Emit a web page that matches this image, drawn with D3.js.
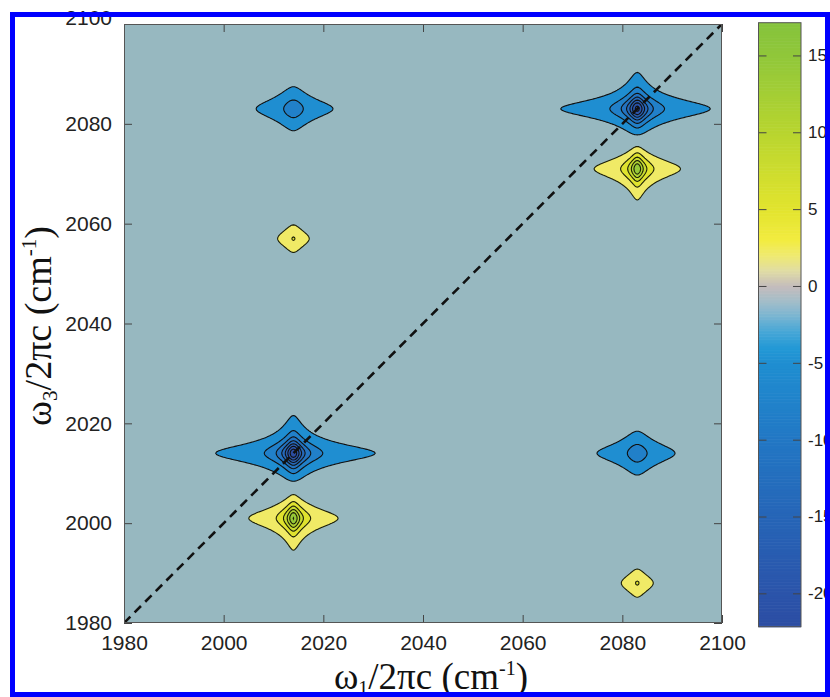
<!DOCTYPE html>
<html>
<head>
<meta charset="utf-8">
<script src="https://cdn.jsdelivr.net/npm/d3@7"></script>
<style>
  html, body { margin: 0; padding: 0; background: #fff; }
  svg { display: block; }
</style>
</head>
<body>
<script>
// axis ticks (cm-1) and colour bar ticks
const w1Ticks = [1980, 2000, 2020, 2040, 2060, 2080, 2100]
const w3Ticks = [1980, 2000, 2020, 2040, 2060, 2080, 2100]
const cbTicks = [-20, -15, -10, -5, 0, 5, 10, 15]
const cbRange = [-22.17, 17.13]

// peaks: centre, amplitude and half widths
const peakW1  = [2014, 2014, 2083, 2083, 2014, 2014, 2083, 2083]
const peakW3  = [2014, 2001, 2083, 2071, 2083, 2057, 2014, 1988]
const peakAmp = [-22.8, 17.9, -21.5, 17.5, -6.6, 5.25, -6.6, 5.25]
const peakGx  = [1.3, 1.07, 1.3, 1.07, 1.93, 1.35, 1.93, 1.35]
const peakGy  = [2.5, 2.5, 2.5, 2.5, 2.85, 2.27, 2.85, 2.27]

// contour levels
const negLevels = [-2, -5, -8, -11, -14, -17, -20]
const posLevels = [2, 5, 8, 11, 14, 17]

// colormap
const cbStops  = [-22.2, -20, -15, -10, -5, -4, -3, -2, -1, 0, 1, 2, 3, 5, 10, 15, 17.2]
const cbColors = ['#2c4da3', '#2b54aa', '#2665b7', '#2277c4', '#1f8ed1', '#2399d6', '#45a6d6',
  '#76b4d2', '#a2bdc9', '#c4bcbc', '#e0dca4', '#efea70', '#f2ec40', '#e2e42e', '#b8d52f',
  '#90c73a', '#85c33c']
const bgColor = '#97b8c0'

const W = 830, H = 697

const svg = d3.select('body').append('svg')
  .attr('width', W)
  .attr('height', H)

const x = d3.scaleLinear().domain([1980, 2100]).range([124, 722])
const y = d3.scaleLinear().domain([1980, 2100]).range([623, 24])
const color = d3.scaleLinear().domain(cbStops).range(cbColors).clamp(true)

// sample the spectrum on a grid
const step = 0.25
const n = Math.round(120 / step) + 1
const values = new Float64Array(n * n)
for (let j = 0; j < n; j++) {
  const w3 = 1980 + j * step
  for (let i = 0; i < n; i++) {
    const w1 = 1980 + i * step
    let v = 0
    for (let k = 0; k < peakAmp.length; k++) {
      const dx = (w1 - peakW1[k]) / peakGx[k]
      const dy = (w3 - peakW3[k]) / peakGy[k]
      v += peakAmp[k] / Math.sqrt(1 + dx * dx) / (1 + dy * dy)
    }
    values[j * n + i] = v
  }
}

const proj = d3.geoTransform({
  point: function(px, py) {
    this.stream.point(x(1980 + (px - 0.5) * step), y(1980 + (py - 0.5) * step))
  }
})
const path = d3.geoPath(proj)

svg.append('clipPath').attr('id', 'plotclip')
  .append('rect')
  .attr('x', 124).attr('y', 24)
  .attr('width', 598).attr('height', 599)

// plot background
svg.append('rect')
  .attr('x', 124).attr('y', 24)
  .attr('width', 598).attr('height', 599)
  .attr('fill', bgColor)

const plot = svg.append('g').attr('clip-path', 'url(#plotclip)')

const negContours = d3.contours()
  .size([n, n])
  .thresholds(negLevels.map(d => -d))(values.map(v => -v))

const posContours = d3.contours()
  .size([n, n])
  .thresholds(posLevels)(values)

plot.selectAll('.neg')
  .data(negContours)
  .enter().append('path')
    .attr('class', 'neg')
    .attr('d', path)
    .attr('fill', d => color(-d.value - 3))
    .attr('stroke', '#111')
    .attr('stroke-width', 1.1)

plot.selectAll('.pos')
  .data(posContours)
  .enter().append('path')
    .attr('class', 'pos')
    .attr('d', path)
    .attr('fill', d => color(d.value + 0.2))
    .attr('stroke', '#1c1f08')
    .attr('stroke-width', 1.1)

// diagonal
plot.append('line')
  .attr('x1', x(1980)).attr('y1', y(1980))
  .attr('x2', x(2100)).attr('y2', y(2100))
  .attr('stroke', '#111')
  .attr('stroke-width', 2.6)
  .attr('stroke-dasharray', '9,6')

// axes
const tickFont = '"Liberation Sans", Arial, Helvetica, sans-serif'

const styleAxis = g => {
  g.select('.domain').remove()
  g.selectAll('.tick line').attr('stroke', '#444')
  g.selectAll('.tick text')
    .attr('fill', '#222')
    .style('font-family', tickFont)
    .style('font-size', '21px')
}

svg.append('g')
  .attr('transform', 'translate(124,0)')
  .call(d3.axisLeft(y).tickValues(w3Ticks).tickSize(-8).tickPadding(12).tickFormat(d3.format('d')))
  .call(styleAxis)
  .call(g => g.selectAll('.tick text').filter(d => d === 2100).attr('y', -6))

svg.append('g')
  .attr('transform', 'translate(722,0)')
  .call(d3.axisRight(y).tickValues(w3Ticks).tickSize(-8).tickFormat(''))
  .call(styleAxis)

svg.append('g')
  .attr('transform', 'translate(0,623)')
  .call(d3.axisBottom(x).tickValues(w1Ticks).tickSize(-8).tickPadding(12).tickFormat(d3.format('d')))
  .call(styleAxis)

svg.append('g')
  .attr('transform', 'translate(0,24)')
  .call(d3.axisTop(x).tickValues(w1Ticks).tickSize(-8).tickFormat(''))
  .call(styleAxis)

svg.append('rect')
  .attr('x', 124.5).attr('y', 24.5)
  .attr('width', 597).attr('height', 598)
  .attr('fill', 'none')
  .attr('stroke', '#555')
  .attr('stroke-width', 1)

// colour bar
const cb = d3.scaleLinear().domain(cbRange).range([626.7, 22.7])
const cbX0 = 758.5, cbX1 = 801
const cbVals = d3.range(cbRange[0], cbRange[1], 0.1)

svg.append('g').selectAll('rect')
  .data(cbVals)
  .enter().append('rect')
    .attr('x', cbX0)
    .attr('width', cbX1 - cbX0)
    .attr('y', d => cb(d + 0.1))
    .attr('height', d => cb(d) - cb(d + 0.1) + 0.6)
    .attr('fill', d => color(d + 0.05))

svg.append('g')
  .attr('transform', 'translate(' + cbX1 + ',0)')
  .call(d3.axisRight(cb).tickValues(cbTicks).tickSize(-8).tickPadding(7).tickFormat(d => String(d)))
  .call(styleAxis)
  .call(g => g.selectAll('.tick text').style('font-size', '17px'))

svg.append('g')
  .attr('transform', 'translate(' + cbX0 + ',0)')
  .call(d3.axisLeft(cb).tickValues(cbTicks).tickSize(-8).tickFormat(''))
  .call(styleAxis)

svg.append('rect')
  .attr('x', cbX0).attr('y', 22.7)
  .attr('width', cbX1 - cbX0).attr('height', 626.7 - 22.7)
  .attr('fill', 'none')
  .attr('stroke', '#555')
  .attr('stroke-width', 1)

// axis titles
const serif = '"Liberation Serif", "Times New Roman", Times, serif'

const xt = svg.append('text')
  .attr('x', 431).attr('y', 689)
  .attr('text-anchor', 'middle')
  .attr('fill', '#111')
  .style('font-family', serif)
  .style('font-size', '37px')
xt.append('tspan').text('ω')
xt.append('tspan').attr('font-size', 20).attr('dy', 6).text('1')
xt.append('tspan').attr('dy', -6).text('/2πc (cm')
xt.append('tspan').attr('font-size', 20).attr('dy', -14).text('-1')
xt.append('tspan').attr('dy', 14).text(')')

const yt = svg.append('text')
  .attr('transform', 'translate(51,326) rotate(-90)')
  .attr('text-anchor', 'middle')
  .attr('fill', '#111')
  .style('font-family', serif)
  .style('font-size', '38px')
yt.append('tspan').text('ω')
yt.append('tspan').attr('font-size', 21).attr('dy', 6).text('3')
yt.append('tspan').attr('dy', -6).text('/2πc (cm')
yt.append('tspan').attr('font-size', 21).attr('dy', -15).text('-1')
yt.append('tspan').attr('dy', 15).text(')')

// blue frame round the figure
svg.append('rect')
  .attr('x', 12.5).attr('y', 14.5)
  .attr('width', 815).attr('height', 680)
  .attr('fill', 'none')
  .attr('stroke', '#0000ff')
  .attr('stroke-width', 5)
</script>
</body>
</html>
